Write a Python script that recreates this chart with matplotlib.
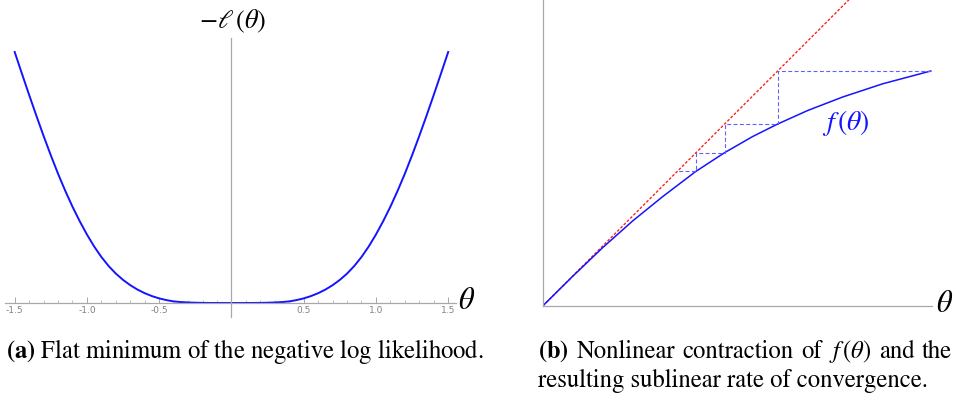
import matplotlib
matplotlib.use('Agg')
import matplotlib.pyplot as plt
import numpy as np

plt.rcParams['mathtext.fontset'] = 'stix'
plt.rcParams['font.family'] = ['STIXGeneral', 'DejaVu Serif']

# Panel (a): -l(theta) (mitad positiva, la curva es simetrica)
theta_a_half = [0.0, 0.05, 0.1, 0.15, 0.2, 0.25, 0.3, 0.35, 0.4, 0.45, 0.5,
                0.55, 0.6, 0.65, 0.7, 0.75, 0.8, 0.85, 0.9, 0.95, 1.0,
                1.05, 1.1, 1.15, 1.2, 1.25, 1.3, 1.35, 1.4, 1.45, 1.5]
nll_half = [0.0, 0.0, 0.01, 0.04, 0.12, 0.28, 0.55, 0.95, 1.6, 2.9, 4.6,
            6.9, 9.8, 13.4, 17.8, 23.1, 29.4, 37.0, 46.0, 56.5, 68.5,
            81.8, 96.3, 112.2, 129.3, 147.7, 167.1, 187.3, 208.1, 229.4, 251.0]
tick_pos = [-1.5, -1.0, -0.5, 0.5, 1.0, 1.5]
tick_labels = ['-1.5', '-1.0', '-0.5', '0.5', '1.0', '1.5']

# Panel (b): f(theta) y las iteraciones theta_{k+1} = f(theta_k)
theta_b = [0, 30, 60, 90, 120, 153, 182, 210, 235, 265, 300, 340, 388]
f_b = [0, 29.7, 58.4, 85.1, 109.4, 134.5, 153.4, 169.5, 182.0, 195.5, 209.0, 222.2, 235.0]
iterates = [388, 235.0, 182.0, 153.4, 134.7]

theta_a = [-t for t in theta_a_half[::-1]] + theta_a_half[1:]
nll = nll_half[::-1] + nll_half[1:]

W, H = 957, 401
fig = plt.figure(figsize=(W / 100, H / 100), dpi=100)

# ---------- panel (a) ----------
ax1 = fig.add_axes([5 / W, (H - 317) / H, (456 - 5) / W, (317 - 38) / H])
ax1.plot(theta_a, nll, color='#1414ff', lw=1.4)
ax1.set_xlim(-1.567, 1.554)
ax1.set_ylim(-14, 265)
ax1.spines['top'].set_visible(False)
ax1.spines['right'].set_visible(False)
ax1.spines['left'].set_position(('data', 0))
ax1.spines['bottom'].set_position(('data', 0))
for s in ['left', 'bottom']:
    ax1.spines[s].set_color('#a8a8a8')
    ax1.spines[s].set_linewidth(0.9)
ax1.set_yticks([])
ax1.set_xticks(tick_pos)
ax1.set_xticklabels(tick_labels, fontfamily='DejaVu Sans')
ax1.set_xticks(np.round(np.arange(-1.5, 1.51, 0.1), 1), minor=True)
ax1.tick_params(axis='x', which='major', direction='in', length=4, width=0.6,
                color='#999999', labelsize=6.5, labelcolor='#808080', pad=2)
ax1.tick_params(axis='x', which='minor', direction='in', length=2.5, width=0.5,
                color='#aaaaaa')
ax1.patch.set_alpha(0)

fig.text(233 / W, 1 - 21 / H, r'$-\ell\,(\theta)$', fontsize=19, ha='center', va='center')
fig.text(467 / W, 1 - 302 / H, r'$\theta$', fontsize=22, ha='center', va='center')

# ---------- panel (b) ----------
ax2 = fig.add_axes([542.7 / W, (H - 306) / H, (931.7 - 542.7) / W, 306 / H])
ax2.set_xlim(0, 389)
ax2.set_ylim(0, 306)
ax2.plot(theta_b, theta_b, color='#ff2020', lw=1.0, linestyle=(0, (2, 1.3)))
ax2.plot(theta_b, f_b, color='#1414ff', lw=1.1)

# telarana de las iteraciones
cx = [iterates[0]]
cy = [iterates[1]]
for k in range(1, len(iterates)):
    cx.append(iterates[k])
    cy.append(iterates[k])
    if k + 1 < len(iterates):
        cx.append(iterates[k])
        cy.append(iterates[k + 1])
ax2.plot(cx, cy, color='#6060ff', lw=0.8, linestyle=(0, (3.5, 2.2)))

ax2.spines['top'].set_visible(False)
ax2.spines['right'].set_visible(False)
for s in ['left', 'bottom']:
    ax2.spines[s].set_color('#a8a8a8')
    ax2.spines[s].set_linewidth(0.9)
ax2.set_xticks([])
ax2.set_yticks([])
ax2.patch.set_alpha(0)

fig.text(846 / W, 1 - 123 / H, r'$f\,(\theta)$', fontsize=20, color='#1414ff',
         ha='center', va='center')
fig.text(945 / W, 1 - 305 / H, r'$\theta$', fontsize=22, ha='center', va='center')

# ---------- leyendas ----------
cap_fs = 17.7
fig.text(6 / W, 1 - 358 / H, r'$\mathbf{(a)}$ Flat minimum of the negative log likelihood.',
         fontsize=cap_fs, ha='left', va='baseline')

# primera linea de (b) justificada entre x=538 y x=952
words = [r'$\mathbf{(b)}$', 'Nonlinear', 'contraction', 'of', r'$f\,(\theta)$', 'and', 'the']
x0, x1 = 538, 952
fig.canvas.draw()
r = fig.canvas.get_renderer()
objs = [fig.text(0, 1 - 358 / H, w, fontsize=cap_fs, ha='left', va='baseline') for w in words]
widths = [t.get_window_extent(r).width for t in objs]
gap = ((x1 - x0) - sum(widths)) / (len(words) - 1)
x = x0
for t, w in zip(objs, widths):
    t.set_x(x / W)
    x += w + gap

fig.text(538 / W, 1 - 387 / H, 'resulting sublinear rate of convergence.',
         fontsize=cap_fs, ha='left', va='baseline')

fig.savefig('out.png', dpi=100)
